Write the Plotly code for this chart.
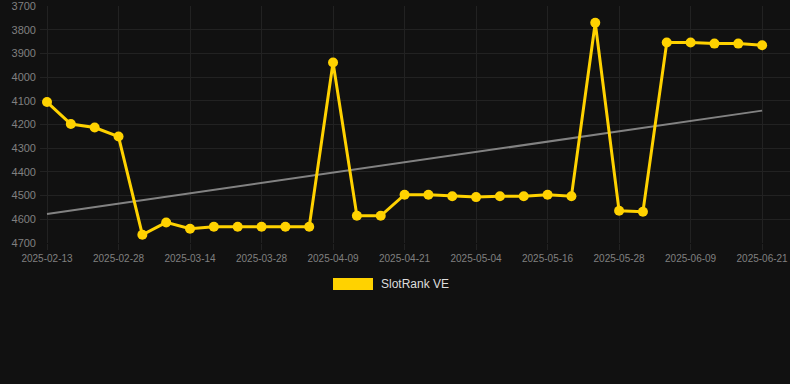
import numpy as np
import plotly.graph_objects as go

dates = [
    "2025-02-13", "2025-02-18", "2025-02-23", "2025-02-28", "2025-03-05", "2025-03-09",
    "2025-03-14", "2025-03-19", "2025-03-23", "2025-03-28", "2025-04-01", "2025-04-05",
    "2025-04-09", "2025-04-13", "2025-04-17", "2025-04-21", "2025-04-25", "2025-04-29",
    "2025-05-04", "2025-05-08", "2025-05-12", "2025-05-16", "2025-05-20", "2025-05-24",
    "2025-05-28", "2025-06-01", "2025-06-05", "2025-06-09", "2025-06-13", "2025-06-17",
    "2025-06-21",
]
ranks = [
    4105, 4198, 4213, 4251, 4666, 4614,
    4641, 4632, 4632, 4632, 4632, 4632,
    3938, 4586, 4586, 4497, 4497, 4503,
    4507, 4503, 4503, 4497, 4503, 3770,
    4565, 4569, 3853, 3853, 3858, 3858,
    3865,
]
tick_labels = dates[::3]
y_ticks = [3700, 3800, 3900, 4000, 4100, 4200, 4300, 4400, 4500, 4600, 4700]
series_name = "SlotRank VE"

idx = np.arange(len(dates))
slope, intercept = np.polyfit(idx, ranks, 1)
trend = slope * idx + intercept

fig = go.Figure()
fig.add_trace(go.Scatter(
    x=idx, y=trend, mode="lines",
    line=dict(color="rgba(150,150,150,0.85)", width=2),
    hoverinfo="skip", showlegend=False,
))
fig.add_trace(go.Scatter(
    x=idx, y=ranks, mode="lines+markers", name=series_name,
    line=dict(color="#FFD200", width=3),
    marker=dict(color="#FFD200", size=10),
    showlegend=False,
))

L, R, T, B = 40, 0, 6, 141
PW, PH = 790 - L - R, 384 - T - B

fig.update_layout(
    width=790, height=384,
    margin=dict(l=L, r=R, t=T, b=B),
    paper_bgcolor="#111111",
    plot_bgcolor="#111111",
    font=dict(family="Liberation Sans, Arial, sans-serif", color="#808080"),
    xaxis=dict(
        range=[-0.294, 31.17],
        tickmode="array",
        tickvals=idx[::3],
        ticktext=tick_labels,
        tickfont=dict(size=10, color="#808080"),
        showgrid=True, gridcolor="#222222", gridwidth=1,
        zeroline=False, showline=False,
        ticks="outside", ticklen=6, tickcolor="#222222",
    ),
    yaxis=dict(
        range=[4701, 3699],
        tickmode="array",
        tickvals=y_ticks,
        tickfont=dict(size=11, color="#808080"),
        showgrid=True, gridcolor="#222222", gridwidth=1,
        zeroline=False, showline=False,
        ticks="", ticklabelstandoff=3,
    ),
    showlegend=False,
)

fig.add_shape(type="rect", xref="paper", yref="paper",
              x0=(333 - L) / PW, x1=(373 - L) / PW,
              y0=(T + PH - 290) / PH, y1=(T + PH - 278) / PH,
              fillcolor="#FFD200", line=dict(width=0))
fig.add_annotation(xref="paper", yref="paper",
                   x=(379 - L) / PW, y=(T + PH - 284) / PH,
                   xanchor="left", yanchor="middle", showarrow=False,
                   text=series_name, font=dict(size=12, color="#dddddd",
                                               family="Liberation Sans, Arial, sans-serif"))

fig.write_html("out.html", config={"displayModeBar": False},
               post_script="document.body.style.margin='0px';document.body.style.overflow='hidden';")
